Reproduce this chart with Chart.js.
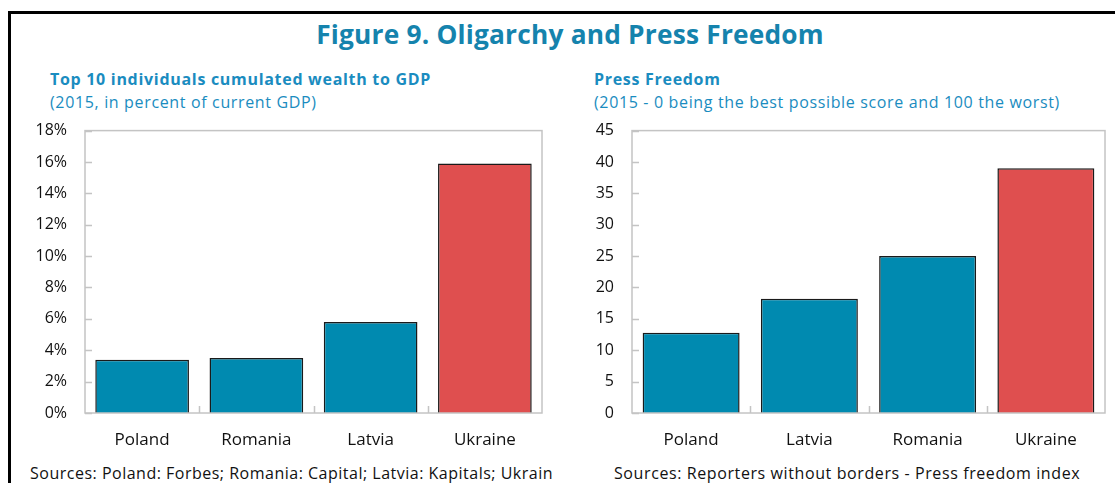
<!DOCTYPE html>
<html>
<head>
<meta charset="utf-8">
<script src="https://cdn.jsdelivr.net/npm/chart.js@4/dist/chart.umd.min.js"></script>
<style>
  html, body { margin:0; padding:0; background:#fff; }
  body { width:1115px; height:483px; position:relative; overflow:hidden; font-family:"Open Sans", "Noto Sans", sans-serif; }
  .frameTop { position:absolute; left:8px; top:11px; width:1107px; height:3px; background:#000; }
  .frameLeft { position:absolute; left:8px; top:11px; width:3px; height:472px; background:#000; }
  .title { position:absolute; left:0; width:1140px; top:16px; text-align:center; font-weight:700; font-size:26.3px; color:#1583ad; letter-spacing:0.2px; }
  .sub { position:absolute; font-weight:700; font-size:16px; color:#1a8cc0; white-space:nowrap; letter-spacing:0.7px; }
  .sub2 { position:absolute; font-size:16px; color:#1a8cc0; white-space:nowrap; letter-spacing:0.65px; }
  .src { position:absolute; font-size:16px; color:#111; white-space:nowrap; overflow:hidden; top:462px; }
  canvas { position:absolute; }
</style>
</head>
<body>
<div class="frameTop"></div>
<div class="frameLeft"></div>
<div class="title">Figure 9. Oligarchy and Press Freedom</div>
<div class="sub" style="left:50px; top:68px;">Top 10 individuals cumulated wealth to GDP</div>
<div class="sub2" style="left:50px; top:91px;">(2015, in percent of current GDP)</div>
<div class="sub" style="left:594px; top:68px;">Press Freedom</div>
<div class="sub2" style="left:594px; top:91px;">(2015 - 0 being the best possible score and 100 the worst)</div>
<div style="position:absolute;left:0;top:103px;width:555px;height:357px;"><canvas id="c1" width="555" height="357"></canvas></div>
<div style="position:absolute;left:555px;top:103px;width:560px;height:357px;"><canvas id="c2" width="560" height="357"></canvas></div>
<div class="src" style="left:30px; width:525px; letter-spacing:0.5px;">Sources: Poland: Forbes; Romania: Capital; Latvia: Kapitals; Ukrain</div>
<div class="src" style="left:614px; width:500px; letter-spacing:0.6px;">Sources: Reporters without borders - Press freedom index</div>
<script>
// ---- data ----
const wealthCountries = ["Poland", "Romania", "Latvia", "Ukraine"];
const wealthValues = [3.4, 3.5, 5.8, 15.9];
const wealthTicks = [0, 2, 4, 6, 8, 10, 12, 14, 16, 18];

const pressCountries = ["Poland", "Latvia", "Romania", "Ukraine"];
const pressValues = [12.8, 18.2, 25.0, 39.0];
const pressTicks = [0, 5, 10, 15, 20, 25, 30, 35, 40, 45];

// ---- styles ----
const TEAL = "#008ab0";
const RED = "#df4f4f";
const FONT = '"Open Sans", "Noto Sans", sans-serif';

const framePlugin = {
  id: 'frame',
  afterDatasetsDraw(chart) {
    const { ctx, chartArea: a, scales } = chart;
    ctx.save();
    ctx.strokeStyle = '#c4c4c4';
    ctx.lineWidth = 1.5;
    ctx.strokeRect(a.left, a.top, a.right - a.left, a.bottom - a.top);
    ctx.beginPath();
    scales.y.ticks.forEach(t => {
      const y = Math.round(scales.y.getPixelForValue(t.value)) + 0.5;
      ctx.moveTo(a.left, y); ctx.lineTo(a.left + 7, y);
    });
    const n = chart.data.labels.length;
    for (let i = 0; i < n - 1; i++) {
      const x = Math.round((scales.x.getPixelForValue(i) + scales.x.getPixelForValue(i + 1)) / 2) + 0.5;
      ctx.moveTo(x, a.bottom); ctx.lineTo(x, a.bottom - 7);
    }
    ctx.stroke();
    ctx.restore();
  }
};

function makeChart(id, labels, values, ticks, fmt, yWidth, rightPad) {
  return new Chart(document.getElementById(id), {
    type: 'bar',
    data: {
      labels: labels,
      datasets: [{
        data: values,
        backgroundColor: c => labels[c.dataIndex] === 'Ukraine' ? RED : TEAL,
        borderColor: '#1a1a1a',
        borderWidth: 1.5,
        barPercentage: 0.82,
        categoryPercentage: 1.0
      }]
    },
    options: {
      responsive: false,
      animation: false,
      devicePixelRatio: 1,
      layout: { padding: { top: 11, right: rightPad, left: 0, bottom: 0 } },
      plugins: { legend: { display: false }, tooltip: { enabled: false }, title: { display: false } },
      scales: {
        x: {
          grid: { display: false, drawTicks: false },
          border: { display: false },
          ticks: { color: '#111', font: { family: FONT, size: 17 }, padding: 17, maxRotation: 0 },
          afterFit: s => { s.height = 47; }
        },
        y: {
          min: ticks[0], max: ticks[ticks.length - 1],
          afterBuildTicks: s => { s.ticks = ticks.map(v => ({ value: v })); },
          grid: { display: false, drawTicks: false },
          border: { display: false },
          ticks: { color: '#111', font: { family: FONT, size: 16 }, padding: 18, callback: v => fmt(v) },
          afterFit: s => { s.width = yWidth; }
        }
      }
    },
    plugins: [framePlugin]
  });
}

makeChart('c1', wealthCountries, wealthValues, wealthTicks, v => v + '%', 85, 13);
makeChart('c2', pressCountries, pressValues, pressTicks, v => String(v), 77, 10);
</script>
</body>
</html>
